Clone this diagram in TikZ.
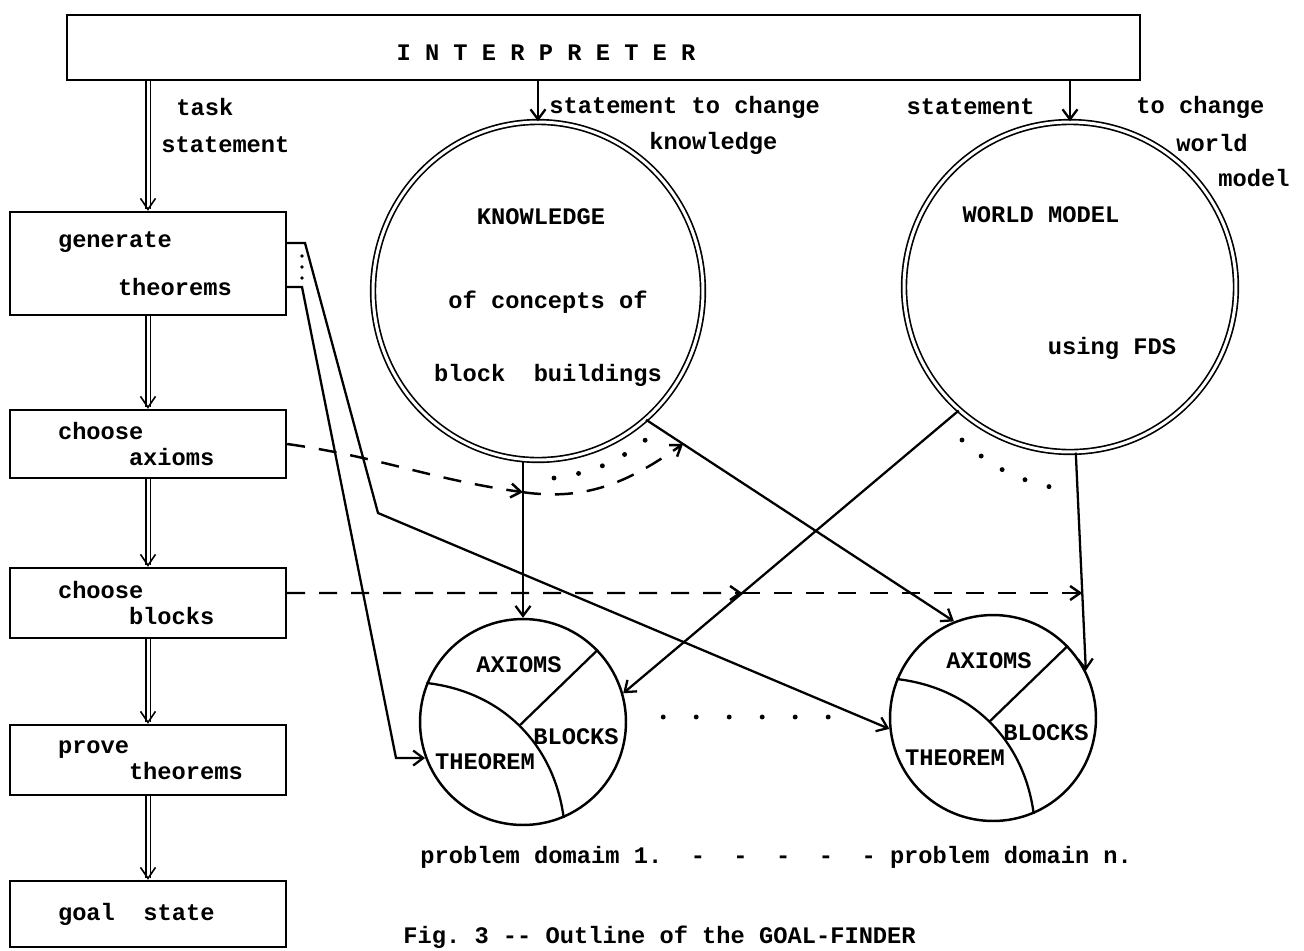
\documentclass[tikz,border=0pt]{standalone}
\usepackage{fontspec}
\setmonofont{Liberation Mono}
\usetikzlibrary{positioning,calc,shapes.geometric,arrows.meta}
\newcommand{\diagramFont}{\fontsize{13.5}{14.5}\selectfont\ttfamily\bfseries}
\tikzstyle{sheet} = [x = 0.02cm, y = -0.02cm, every node/.style={font=\diagramFont}]
\tikzstyle{taskBox} = [draw, line width=1.4pt, minimum width=5.52cm, text width=3.6cm, inner xsep=0.96cm, inner ysep=0pt, align=left]
\tikzstyle{bigCircle} = [draw, ellipse, double, double distance=0.06cm, line width=0.95pt, inner sep=0pt]
\tikzstyle{domainCircle} = [draw, circle, line width=1.4pt, minimum size=4.12cm, inner sep=0pt]
\tikzstyle{flowLine} = [line width=1.3pt, -{Straight Barb[length=0.2cm, width=0.3cm]}]
\tikzstyle{stepFlow} = [double, double distance=0.06cm, line width=0.9pt, -{Straight Barb[length=0.22cm, width=0.3cm]}]
\tikzstyle{plainLine} = [line width=1.3pt]
\tikzstyle{dashLine} = [line width=1.4pt, dash pattern=on 0.36cm off 0.28cm, -{Straight Barb[length=0.2cm, width=0.28cm]}]
\tikzstyle{dotLine} = [line width=2.8pt, line cap=round, dash pattern=on 0pt off 0.5cm]
\tikzstyle{domainDots} = [line width=2.8pt, line cap=round, dash pattern=on 0pt off 0.66cm]
\tikzstyle{smallDots} = [line width=2.2pt, line cap=round, dash pattern=on 0pt off 0.22cm]
\tikzstyle{labelText} = [anchor=west, inner sep=0pt]
\newcommand{\domainParts}[1]{
  \draw[plainLine] (#1.158) to[bend left=38] coordinate[pos=.5] (#1Mid) (#1.-67);
  \draw[plainLine] (#1.44) -- (#1Mid);
  \node (#1Axioms) at ($(#1)+(-4,-57)$) {AXIOMS};
  \node (#1Blocks) at ($(#1)+(53,15)$) {BLOCKS};
  \node (#1Theorem) at ($(#1)+(-38,40)$) {THEOREM};
}

\begin{document}
\begin{tikzpicture}[sheet]
  \useasboundingbox (0,0) rectangle (1304,950);

  % interpreter
  \node[draw, line width=1.4pt, minimum width=21.46cm, minimum height=1.3cm, inner sep=0pt] (interp) at (603.5,47.5) {};
  \node (interpText) at (546,53) {I N T E R P R E T E R};

  % steps of the goal finder
  \node[taskBox, minimum height=2.06cm] (genBox) at (148,263.5) {generate\\[0.45cm]\hspace*{1.2cm}theorems};
  \node[taskBox, minimum height=1.36cm] (axBox) at (148,444) {choose\\\hspace*{1.42cm}axioms};
  \node[taskBox, minimum height=1.4cm] (blBox) at (148,603) {choose\\\hspace*{1.42cm}blocks};
  \node[taskBox, minimum height=1.4cm] (prBox) at (148,760) {prove\\\hspace*{1.42cm}theorems};
  \node[taskBox, minimum height=1.32cm] (goalBox) at (148,914) {goal\hspace*{1.2em}state};

  \draw[stepFlow] (interp.south -| genBox.north) -- (genBox.north);
  \foreach \from/\to in {genBox/axBox, axBox/blBox, blBox/prBox, prBox/goalBox}
    \draw[stepFlow] (\from.south) -- (\to.north);
  \node[labelText] (taskLabelA) at (176,107) {task};
  \node[labelText] (taskLabelB) at (161,145) {statement};

  % knowledge and world model
  \node[bigCircle, minimum width=6.6cm, minimum height=6.76cm] (know) at (538,291) {};
  \node[bigCircle, minimum width=6.64cm, minimum height=6.6cm] (world) at (1070,287) {};
  \node (knowTitle) at (541,217) {KNOWLEDGE};
  \node (knowLineA) at (548,302) {of concepts of};
  \node (knowLineB) at (548,375) {block~~buildings};
  \node (worldTitle) at (1041,215) {WORLD MODEL};
  \node (worldLine) at (1112,348) {using FDS};

  \draw[flowLine] (interp.south -| know.north) -- (know.north);
  \draw[flowLine] (interp.south -| world.north) -- (world.north);
  \node[labelText] (knowLabelA) at (549,107) {statement to change};
  \node[labelText] (knowLabelB) at (649,143) {knowledge};
  \node[anchor=east, inner sep=0pt] (worldLabelA) at (1035,107) {statement};
  \node[labelText] (worldLabelB) at (1136,107) {to change};
  \node[labelText] (worldLabelC) at (1176,143) {world};
  \node[labelText] (worldLabelD) at (1218,178) {model};

  % problem domains
  \node[domainCircle] (dom1) at (523,722) {};
  \node[domainCircle] (domN) at (993,718) {};
  \domainParts{dom1}
  \domainParts{domN}
  \draw[domainDots] ($(dom1.east)+(36,-5)$) -- ($(domN.west)+(-60,-1)$);

  \draw[flowLine] (know.south -| dom1.north) -- (dom1.north);
  \draw[flowLine] (know.-50) -- (domN.112);
  \draw[flowLine] (world.-132) -- (dom1.16);
  \draw[flowLine] (world.-88) -- (domN.27);
  \draw[dotLine] (554,478) to[bend right=15] (648,438);
  \draw[dotLine] (962,440) to[bend right=15] (1055,488);

  % theorems to the domains
  \coordinate (stubTop) at (305,243);
  \coordinate (stubBot) at (302,287);
  \coordinate (bendTop) at (378,513);
  \coordinate (bendBot) at (396,758);
  \draw[flowLine] (genBox.east |- stubTop) -- (stubTop) -- (bendTop) -- (domN.186);
  \draw[flowLine] (genBox.east |- stubBot) -- (stubBot) -- (bendBot) -- (bendBot -| dom1.200);
  \draw[smallDots] ($(stubTop)+(-3,13)$) -- ($(stubBot)+(0,-8)$);

  % axioms and blocks
  \coordinate (axCross) at ($(know.south -| dom1.north)!0.2!(dom1.north)$);
  \coordinate (axEnd) at ($(know.-50)!0.12!(domN.112)$);
  \draw[dashLine] (axBox.east) to[out=-8, in=172] (axCross);
  \draw[dashLine] (axCross) to[out=-8, in=-145] (axEnd);
  \coordinate (blStart) at ($(blBox.east)+(0,-10)$);
  \coordinate (blFar) at ($(blStart)+(900,0)$);
  \coordinate (blCross) at (intersection of world.-132--dom1.16 and blStart--blFar);
  \coordinate (blEnd) at (intersection of world.-88--domN.27 and blStart--blFar);
  \draw[dashLine] (blStart) -- (blCross);
  \draw[dashLine] (blCross) -- (blEnd);

  % captions
  \node[labelText] (domainCaption) at (420,857) {problem domaim 1.~~-~~-~~-~~-~~-~problem domain n.};
  \node[anchor=base west, inner sep=0pt] (figCaption) at (403,943) {Fig. 3 -- Outline of the GOAL-FINDER};
\end{tikzpicture}
\end{document}
